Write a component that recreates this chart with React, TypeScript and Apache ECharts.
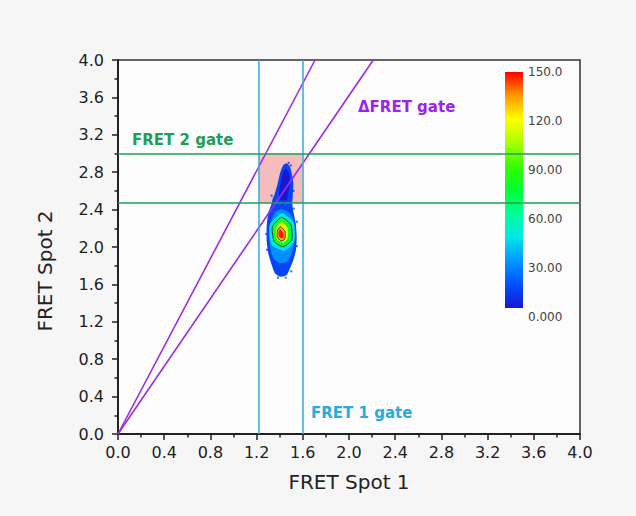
import React, { useEffect, useRef } from 'react';
import * as echarts from 'echarts';

// ---- axes ----
const AXIS_MIN = 0;
const AXIS_MAX = 4;
const AXIS_STEP = 0.4;

// ---- gates ----
const fret1Gate = [1.22, 1.6]; // x values (cyan)
const fret2Gate = [2.47, 3.0]; // y values (green)
const deltaGateSteep = [[0, 0], [1.706, 4.0]];
const deltaGateShallow = [[0, 0], [2.21, 4.0]];

// ---- density contours (x, y) ----
const contourOuter = [
  [1.461, 2.895], [1.489, 2.859], [1.504, 2.788], [1.518, 2.681], [1.513, 2.538],
  [1.509, 2.471], [1.518, 2.378], [1.539, 2.253], [1.547, 2.11], [1.541, 1.968],
  [1.518, 1.861], [1.489, 1.772], [1.461, 1.701], [1.403, 1.682], [1.359, 1.719],
  [1.331, 1.807], [1.301, 1.933], [1.287, 2.075], [1.287, 2.217], [1.301, 2.36],
  [1.331, 2.467], [1.336, 2.503], [1.359, 2.574], [1.383, 2.681], [1.403, 2.788],
  [1.431, 2.877],
];
const contourUpperCore = [
  [1.452, 2.842], [1.481, 2.788], [1.489, 2.681], [1.474, 2.574], [1.461, 2.503],
  [1.403, 2.503], [1.394, 2.591], [1.411, 2.698], [1.431, 2.805],
];
const contourLightBlue = [
  [1.417, 2.403], [1.489, 2.36], [1.524, 2.253], [1.526, 2.075], [1.504, 1.933],
  [1.461, 1.843], [1.403, 1.826], [1.345, 1.879], [1.316, 2.003], [1.307, 2.164],
  [1.331, 2.307], [1.365, 2.378],
];
const contourCyan = [
  [1.417, 2.36], [1.521, 2.26], [1.526, 2.057], [1.44, 1.961], [1.331, 2.021], [1.313, 2.235],
];
const contourGreen = [
  [1.417, 2.318], [1.498, 2.235], [1.504, 2.075], [1.431, 2.003], [1.353, 2.057], [1.336, 2.217],
];
const contourYellow = [
  [1.417, 2.271], [1.466, 2.21], [1.469, 2.093], [1.431, 2.046], [1.374, 2.082], [1.365, 2.2],
];
const contourOrange = [
  [1.409, 2.217], [1.446, 2.164], [1.443, 2.082], [1.411, 2.064], [1.379, 2.11], [1.383, 2.182],
];
const contourRed = [
  [1.405, 2.189], [1.431, 2.146], [1.426, 2.093], [1.394, 2.11], [1.391, 2.164],
];
const contourShapes = [
  contourOuter, contourUpperCore, contourLightBlue, contourCyan,
  contourGreen, contourYellow, contourOrange, contourRed,
];
const contourLevels = [12, 0, 28, 46, 78, 114, 132, 148];
const contourOutlined = [false, false, false, false, true, false, true, false];

// scattered edge points [x, y, level]
const specks = [
  [1.478, 2.9, 8], [1.496, 2.872, 10], [1.522, 2.41, 14], [1.55, 2.27, 16],
  [1.548, 2.01, 14], [1.385, 1.672, 12], [1.452, 1.672, 14], [1.283, 2.14, 16],
  [1.29, 1.97, 12], [1.5, 1.74, 12], [1.52, 2.6, 8], [1.33, 2.55, 8],
];

// ---- colour scale ----
const colorbarMin = 0;
const colorbarMax = 150;
const colorbarStep = 30;
const colorbarBarStart = 5.5;
const colorbarTickLabels = ['0.000', '30.00', '60.00', '90.00', '120.0', '150.0'];
const palette = [
  '#1818d2', '#0050ff', '#0099ff', '#00e6e6', '#00ff99', '#00ff33',
  '#33ff00', '#aaff00', '#ffff00', '#ff9900', '#ff0000',
];

const FONT = 'DejaVu Sans';
const AXIS_COLOR = '#222';

export default function App() {
  const ref = useRef<HTMLDivElement>(null);

  useEffect(() => {
    if (!ref.current) return;
    const chart = echarts.init(ref.current, null, { renderer: 'svg' });

    const gradStops = palette.map((c, i) => ({ offset: i / (palette.length - 1), color: c }));

    const valueAxisCommon = {
      type: 'value',
      min: AXIS_MIN,
      max: AXIS_MAX,
      interval: AXIS_STEP,
      splitLine: { show: false },
      axisLine: { show: true, onZero: false, lineStyle: { color: AXIS_COLOR, width: 2 } },
      axisTick: { show: true, inside: false, length: 6, lineStyle: { color: AXIS_COLOR, width: 1.5 } },
      minorTick: { show: true, splitNumber: 2, length: 3.5, lineStyle: { color: AXIS_COLOR, width: 1.5 } },
      axisLabel: {
        fontFamily: FONT, fontSize: 16, color: '#1e1e1e',
        formatter: (v: number) => v.toFixed(1),
      },
    };

    const option: any = {
      animation: false,
      backgroundColor: '#f6f6f6',
      grid: [
        {
          left: 118, top: 60, width: 462, height: 374,
          show: true, backgroundColor: '#fcfcfc', borderColor: '#333', borderWidth: 1.5,
        },
        { left: 505, top: 72, width: 18, height: 245 },
      ],
      xAxis: [
        {
          ...valueAxisCommon,
          gridIndex: 0,
          name: 'FRET Spot 1',
          nameLocation: 'middle',
          nameGap: 38,
          nameTextStyle: { fontFamily: FONT, fontSize: 20, color: '#222' },
          axisLabel: { ...valueAxisCommon.axisLabel, margin: 10 },
        },
        { type: 'category', gridIndex: 1, data: ['cb'], show: false },
      ],
      yAxis: [
        {
          ...valueAxisCommon,
          gridIndex: 0,
          axisLabel: { ...valueAxisCommon.axisLabel, margin: 14 },
        },
        {
          type: 'value', gridIndex: 1, position: 'right',
          min: colorbarMin, max: colorbarMax, interval: colorbarStep,
          axisLine: { show: false }, axisTick: { show: false }, splitLine: { show: false },
          axisLabel: {
            margin: 5, fontFamily: FONT, fontSize: 12, color: '#444',
            formatter: (v: number) => colorbarTickLabels[Math.round((v - colorbarMin) / colorbarStep)],
          },
        },
      ],
      visualMap: {
        type: 'continuous',
        show: false,
        min: colorbarMin,
        max: colorbarMax,
        dimension: 2,
        seriesIndex: [1, 2],
        inRange: { color: palette },
      },
      series: [
        {
          type: 'line', xAxisIndex: 0, yAxisIndex: 0, data: [], z: 1, silent: true,
          markArea: {
            silent: true,
            itemStyle: { color: '#f6bcbc', opacity: 1 },
            data: [[{ xAxis: fret1Gate[0], yAxis: fret2Gate[0] }, { xAxis: fret1Gate[1], yAxis: fret2Gate[1] }]],
          },
        },
        {
          type: 'custom', xAxisIndex: 0, yAxisIndex: 0, z: 2, silent: true,
          encode: { x: 0, y: 1 },
          data: contourShapes.map((s, i) => [s[0][0], s[0][1], contourLevels[i], i]),
          renderItem: (params: any, api: any) => {
            const idx = api.value(3);
            const pts = contourShapes[idx].map((p) => api.coord(p));
            return {
              type: 'polygon',
              shape: { points: pts, smooth: 0.2 },
              style: {
                fill: api.visual('color'),
                stroke: contourOutlined[idx] ? '#1a1a1a' : null,
                lineWidth: contourOutlined[idx] ? 0.8 : 0,
              },
            };
          },
        },
        {
          type: 'scatter', xAxisIndex: 0, yAxisIndex: 0, z: 2, silent: true,
          symbol: 'rect', symbolSize: 2,
          data: specks,
        },
        {
          type: 'line', xAxisIndex: 0, yAxisIndex: 0, z: 3, silent: true,
          data: deltaGateSteep, symbol: 'none', showSymbol: false,
          lineStyle: { color: '#9b2de6', width: 1.6 },
        },
        {
          type: 'line', xAxisIndex: 0, yAxisIndex: 0, z: 3, silent: true,
          data: deltaGateShallow, symbol: 'none', showSymbol: false,
          lineStyle: { color: '#9b2de6', width: 1.6 },
        },
        {
          type: 'line', xAxisIndex: 0, yAxisIndex: 0, z: 3, data: [], silent: true,
          markLine: {
            silent: true, symbol: 'none', label: { show: false },
            data: [
              ...fret1Gate.map((v) => ({ xAxis: v, lineStyle: { color: '#38b2e3', width: 1.6, type: 'solid' } })),
              ...fret2Gate.map((v) => ({ yAxis: v, lineStyle: { color: '#1f9e58', width: 1.6, type: 'solid' } })),
            ],
          },
        },
        {
          type: 'bar', xAxisIndex: 1, yAxisIndex: 1, stack: 'cb', barWidth: 18, silent: true,
          data: [colorbarBarStart], itemStyle: { color: 'rgba(0,0,0,0)' },
        },
        {
          type: 'bar', xAxisIndex: 1, yAxisIndex: 1, stack: 'cb', barWidth: 18, silent: true,
          data: [colorbarMax - colorbarBarStart],
          itemStyle: { color: new echarts.graphic.LinearGradient(0, 1, 0, 0, gradStops) },
        },
      ],
      graphic: [
        {
          type: 'text', x: 45, y: 271, rotation: Math.PI / 2,
          style: { text: 'FRET Spot 2', fill: '#222', font: `20px ${FONT}`, align: 'center', verticalAlign: 'middle' },
        },
        {
          type: 'text', x: 132, y: 140, z: 10,
          style: { text: 'FRET 2 gate', fill: '#1f9e58', font: `bold 15px ${FONT}`, align: 'left', verticalAlign: 'middle' },
        },
        {
          type: 'text', x: 358, y: 107, z: 10,
          style: { text: 'ΔFRET gate', fill: '#9b22f0', font: `bold 15px ${FONT}`, align: 'left', verticalAlign: 'middle' },
        },
        {
          type: 'text', x: 311, y: 413, z: 10,
          style: { text: 'FRET 1 gate', fill: '#2aaae2', font: `bold 15px ${FONT}`, align: 'left', verticalAlign: 'middle' },
        },
      ],
    };

    chart.setOption(option);
    return () => chart.dispose();
  }, []);

  return (
    <div
      ref={ref}
      style={{ position: 'absolute', left: 0, top: 0, width: 636, height: 516 }}
    />
  );
}
